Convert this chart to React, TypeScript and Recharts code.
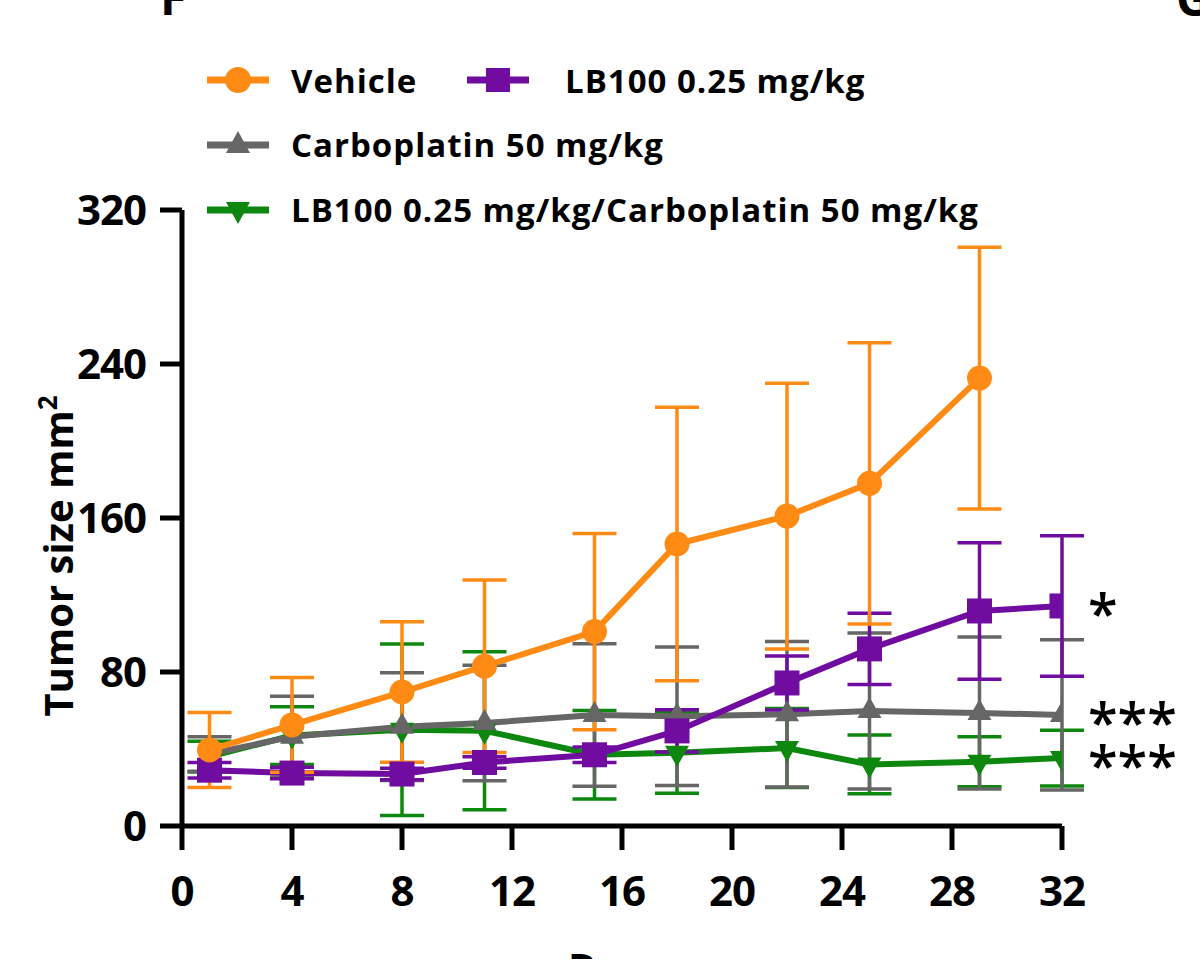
import React from 'react'
import { LineChart, Line, XAxis, YAxis, ErrorBar } from 'recharts'

const days = [1, 4, 8, 11, 15, 18, 22, 25, 29, 32]

const vehicleMean = [39.5, 52.5, 69.6, 83, 101, 146.5, 161, 178, 232.7]
const vehicleSd = [19.5, 24.6, 36.5, 44.8, 51, 71, 69, 73, 68]

const lb100Mean = [29, 27.5, 27, 33, 37, 49.4, 74.3, 92, 111.7, 114.3]
const lb100Sd = [4, 3, 3, 3, 4, 11, 14, 18.5, 35.5, 36.5]

const carboMean = [37.4, 46.4, 51.6, 53.5, 57.7, 57, 58, 59.7, 58.7, 57.7]
const carboSd = [9, 21, 28, 30, 37, 36, 37.8, 40.5, 39.5, 39]

const comboMean = [36, 47, 50, 49.5, 37, 38, 40.5, 32, 33.4, 35.3]
const comboSd = [8, 15, 44.5, 41, 23, 21, 20.5, 15.3, 13, 14.5]

const xTicks = [0, 4, 8, 12, 16, 20, 24, 28, 32]
const yTicks = [0, 80, 160, 240, 320]

const ORANGE = '#FF8A14'
const PURPLE = '#700CA0'
const GRAY = '#666666'
const GREEN = '#0E870E'
const FONT = '"Open Sans", sans-serif'

function series(mean: number[], sd: number[]) {
  return mean.map((m, i) => ({ day: days[i], value: m, sd: sd[i] }))
}

const vehicleData = series(vehicleMean, vehicleSd)
const lb100Data = series(lb100Mean, lb100Sd)
const carboData = series(carboMean, carboSd)
const comboData = series(comboMean, comboSd)

function squareDot(color: string, size: number) {
  return (p: any) => {
    if (p.cx == null || p.cy == null) return <g key={p.index} />
    return <rect key={p.index} x={p.cx - size / 2} y={p.cy - size / 2} width={size} height={size} fill={color} />
  }
}

function triDot(color: string, w: number, h: number, down: boolean) {
  return (p: any) => {
    if (p.cx == null || p.cy == null) return <g key={p.index} />
    const { cx, cy } = p
    const pts = down
      ? `${cx - w / 2},${cy - h / 3} ${cx + w / 2},${cy - h / 3} ${cx},${cy + (2 * h) / 3}`
      : `${cx - w / 2},${cy + h / 3} ${cx + w / 2},${cy + h / 3} ${cx},${cy - (2 * h) / 3}`
    return <polygon key={p.index} points={pts} fill={color} />
  }
}

// significance stars next to the last point of a series
function stars(text: string, lastIndex: number) {
  return (p: any) => {
    if (p.index !== lastIndex || p.x == null) return null
    return (
      <text x={p.x + 26} y={p.y + 27} fontSize={54} fontWeight={600} fontFamily={FONT} fill="#000">
        {text}
      </text>
    )
  }
}

function LegendIcon({ x, y, color, kind }: { x: number; y: number; color: string; kind: string }) {
  const cx = x + 31
  let marker: React.ReactNode = null
  if (kind === 'circle') marker = <circle cx={cx} cy={y} r={13} fill={color} />
  if (kind === 'square') marker = <rect x={cx - 12} y={y - 12} width={24} height={24} fill={color} />
  if (kind === 'up') marker = <polygon points={`${cx - 12},${y + 8} ${cx + 12},${y + 8} ${cx},${y - 14}`} fill={color} />
  if (kind === 'down') marker = <polygon points={`${cx - 12},${y - 8} ${cx + 12},${y - 8} ${cx},${y + 14}`} fill={color} />
  return (
    <g>
      <line x1={x} y1={y} x2={x + 62} y2={y} stroke={color} strokeWidth={7} />
      {marker}
    </g>
  )
}

const legendText = { fontSize: 33, fontWeight: 700, fontFamily: FONT, fill: '#000', letterSpacing: 1 }

export default function App() {
  const tickStyle = { fontSize: 42, fontWeight: 700, fill: '#000', fontFamily: FONT, letterSpacing: -1 }
  return (
    <div style={{ position: 'absolute', left: 0, top: 0, width: 1200, height: 959, background: '#fff' }}>
      <LineChart width={1200} height={959} margin={{ top: 210, right: 138, left: 0, bottom: 0 }}>
        <XAxis
          type="number"
          dataKey="day"
          domain={[0, 32]}
          ticks={xTicks}
          allowDataOverflow
          height={133}
          tick={tickStyle}
          tickSize={24}
          tickMargin={26}
          axisLine={{ stroke: '#000', strokeWidth: 5 }}
          tickLine={{ stroke: '#000', strokeWidth: 5 }}
        />
        <YAxis
          type="number"
          domain={[0, 320]}
          ticks={yTicks}
          width={182}
          tick={tickStyle}
          tickSize={22}
          tickMargin={14}
          axisLine={{ stroke: '#000', strokeWidth: 5 }}
          tickLine={{ stroke: '#000', strokeWidth: 5 }}
        />
        <Line
          data={comboData}
          dataKey="value"
          stroke={GREEN}
          strokeWidth={6}
          dot={triDot(GREEN, 24, 21, true)}
          label={stars('***', comboData.length - 1)}
          isAnimationActive={false}
        >
          <ErrorBar dataKey="sd" direction="y" width={22} stroke={GREEN} strokeWidth={3.5} />
        </Line>
        <Line
          data={carboData}
          dataKey="value"
          stroke={GRAY}
          strokeWidth={6}
          dot={triDot(GRAY, 24, 21, false)}
          label={stars('***', carboData.length - 1)}
          isAnimationActive={false}
        >
          <ErrorBar dataKey="sd" direction="y" width={22} stroke={GRAY} strokeWidth={3.5} />
        </Line>
        <Line
          data={lb100Data}
          dataKey="value"
          stroke={PURPLE}
          strokeWidth={6}
          dot={squareDot(PURPLE, 25)}
          label={stars('*', lb100Data.length - 1)}
          isAnimationActive={false}
        >
          <ErrorBar dataKey="sd" direction="y" width={22} stroke={PURPLE} strokeWidth={3.5} />
        </Line>
        <Line
          data={vehicleData}
          dataKey="value"
          stroke={ORANGE}
          strokeWidth={6}
          dot={{ r: 12.5, fill: ORANGE, stroke: 'none' }}
          isAnimationActive={false}
        >
          <ErrorBar dataKey="sd" direction="y" width={22} stroke={ORANGE} strokeWidth={3.5} />
        </Line>
      </LineChart>

      <svg width={1200} height={959} style={{ position: 'absolute', left: 0, top: 0, pointerEvents: 'none' }}>
        <text x={160} y={15} fontSize={48} fontWeight={700} fontFamily={FONT}>F</text>
        <text x={1176} y={16} fontSize={48} fontWeight={700} fontFamily={FONT}>G</text>

        <LegendIcon x={207} y={80} color={ORANGE} kind="circle" />
        <text x={291} y={93} {...legendText}>Vehicle</text>
        <LegendIcon x={467} y={80} color={PURPLE} kind="square" />
        <text x={565} y={93} {...legendText}>LB100 0.25 mg/kg</text>
        <LegendIcon x={207} y={145} color={GRAY} kind="up" />
        <text x={291} y={157} {...legendText}>Carboplatin 50 mg/kg</text>
        <LegendIcon x={207} y={210} color={GREEN} kind="down" />
        <text x={291} y={222} {...legendText}>LB100 0.25 mg/kg/Carboplatin 50 mg/kg</text>

        <text transform="translate(73,556) rotate(-90)" textAnchor="middle" fontSize={40} fontWeight={700} fontFamily={FONT}>
          Tumor size mm<tspan fontSize={26} dy={-16}>2</tspan>
        </text>
        <text x={568} y={982} fontSize={40} fontWeight={700} fontFamily={FONT}>Days</text>
      </svg>
    </div>
  )
}
